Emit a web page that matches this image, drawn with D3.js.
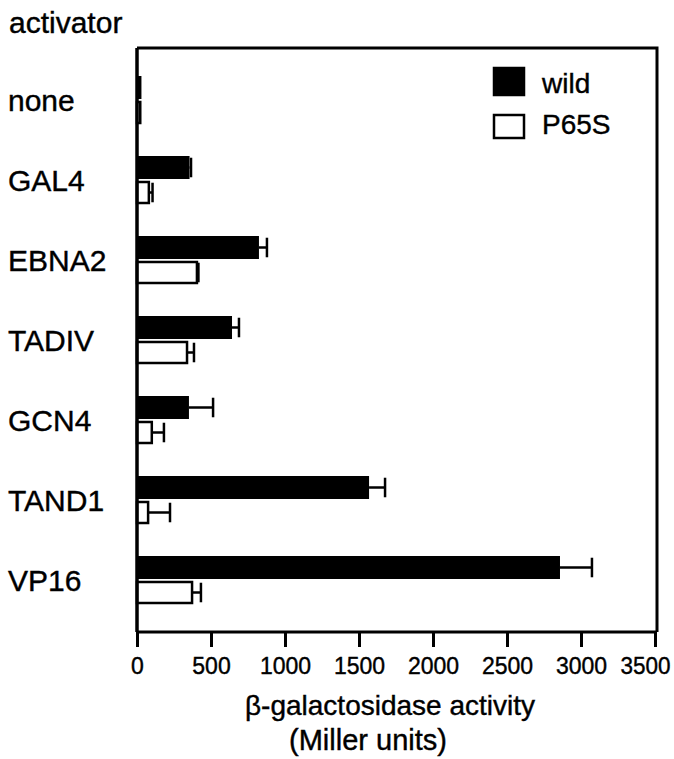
<!DOCTYPE html>
<html>
<head>
<meta charset="utf-8">
<script src="https://cdn.jsdelivr.net/npm/d3@7"></script>
<style>
  body { margin: 0; background: #fff; }
  svg text { font-family: "Liberation Sans", Arial, Helvetica, sans-serif; fill: #000; stroke: #000; stroke-width: 0.4px; }
</style>
</head>
<body>
<svg id="chart"></svg>
<script>
// activators, top to bottom
const activators = ["none", "GAL4", "EBNA2", "TADIV", "GCN4", "TAND1", "VP16"];
const series = ["wild", "P65S"];

// beta-galactosidase activity (Miller units)
const wildValues = [30, 355, 824, 642, 351, 1568, 2858];
const wildErrors = [0, 10, 54, 47, 163, 108, 216];
const p65sValues = [22, 80, 405, 338, 100, 75, 372];
const p65sErrors = [0, 25, 10, 47, 82, 148, 60];

const xTicks = [0, 500, 1000, 1500, 2000, 2500, 3000, 3500];

const W = 674, H = 759;
const plotLeft = 137, plotRight = 655, plotTop = 48, plotBottom = 632;

const svg = d3.select("#chart").attr("width", W).attr("height", H);

const x = d3.scaleLinear().domain([0, 3500]).range([plotLeft, plotRight]);

const y = d3.scaleBand()
  .domain(activators)
  .range([plotTop, plotBottom])
  .paddingInner(0.4)
  .paddingOuter(0.35);

const ySub = d3.scaleBand()
  .domain(series)
  .range([0, y.bandwidth()])
  .paddingInner(0.08);

// build rows for drawing
const rows = [];
activators.forEach((a, i) => {
  rows.push({ act: a, s: "wild", v: wildValues[i], e: wildErrors[i] });
  rows.push({ act: a, s: "P65S", v: p65sValues[i], e: p65sErrors[i] });
});

// error bars (drawn first so the bar covers the start)
const eb = svg.append("g").attr("stroke", "#000").attr("stroke-width", 2.5);
rows.filter(d => d.e > 0).forEach(d => {
  const yc = y(d.act) + ySub(d.s) + ySub.bandwidth() / 2;
  const h = ySub.bandwidth() * 0.85;
  eb.append("line")
    .attr("x1", x(d.v)).attr("x2", x(d.v + d.e))
    .attr("y1", yc).attr("y2", yc);
  eb.append("line")
    .attr("x1", x(d.v + d.e)).attr("x2", x(d.v + d.e))
    .attr("y1", yc - h / 2).attr("y2", yc + h / 2);
});

// bars
svg.append("g").selectAll("rect")
  .data(rows)
  .enter()
  .append("rect")
  .attr("x", x(0))
  .attr("y", d => y(d.act) + ySub(d.s) + (d.s === "P65S" ? 1 : 0))
  .attr("width", d => x(d.v) - x(0))
  .attr("height", d => ySub.bandwidth() - (d.s === "P65S" ? 2 : 0))
  .attr("fill", d => d.s === "wild" ? "#000" : "#fff")
  .attr("stroke", "#000")
  .attr("stroke-width", d => d.s === "wild" ? 0 : 2.5);

// frame: top and right borders
svg.append("path")
  .attr("d", `M${plotLeft},${plotTop}H${plotRight + 2}V${plotBottom}`)
  .attr("fill", "none")
  .attr("stroke", "#000")
  .attr("stroke-width", 3);

// left axis line
svg.append("line")
  .attr("x1", plotLeft).attr("x2", plotLeft)
  .attr("y1", plotTop).attr("y2", plotBottom)
  .attr("stroke", "#000").attr("stroke-width", 3.5);

// x axis
const xAxis = d3.axisBottom(x)
  .tickValues(xTicks)
  .tickSize(15)
  .tickPadding(11)
  .tickFormat(d3.format("d"));

const gx = svg.append("g")
  .attr("transform", `translate(0,${plotBottom})`)
  .call(xAxis);
gx.select(".domain").attr("d", `M${plotLeft},0H${plotRight + 2}`).attr("stroke-width", 3);
gx.selectAll(".tick line").attr("stroke-width", 3);
gx.selectAll(".tick text")
  .style("font-size", "23px")
  .style("font-family", "\"Liberation Sans\", Arial, sans-serif");
// last label is squeezed against the edge in the original
gx.selectAll(".tick text").filter(d => d === 3500)
  .attr("x", -10)
  .attr("textLength", 50)
  .attr("lengthAdjust", "spacingAndGlyphs");

// category labels
svg.append("g").selectAll("text")
  .data(activators)
  .enter()
  .append("text")
  .attr("x", 8)
  .attr("y", d => y(d) + y.bandwidth() / 2 + 11)
  .style("font-size", "30px")
  .text(d => d);

svg.append("text")
  .attr("x", 9).attr("y", 33)
  .style("font-size", "30px")
  .text("activator");

// axis title
svg.append("text")
  .attr("x", 390).attr("y", 715)
  .attr("text-anchor", "middle")
  .style("font-size", "28px")
  .text("β-galactosidase activity");

svg.append("text")
  .attr("x", 368).attr("y", 750)
  .attr("text-anchor", "middle")
  .style("font-size", "29px")
  .text("(Miller units)");

// legend
const legend = svg.append("g");
const legendRows = [
  { name: "wild", fill: "#000", y0: 68, h: 27, ty: 93 },
  { name: "P65S", fill: "#fff", y0: 115, h: 23, ty: 134 }
];
legendRows.forEach(r => {
  legend.append("rect")
    .attr("x", 494).attr("y", r.y0)
    .attr("width", 30).attr("height", r.h)
    .attr("fill", r.fill)
    .attr("stroke", "#000").attr("stroke-width", 2.5);
  legend.append("text")
    .attr("x", 542).attr("y", r.ty)
    .style("font-size", "28px")
    .text(r.name);
});
</script>
</body>
</html>
